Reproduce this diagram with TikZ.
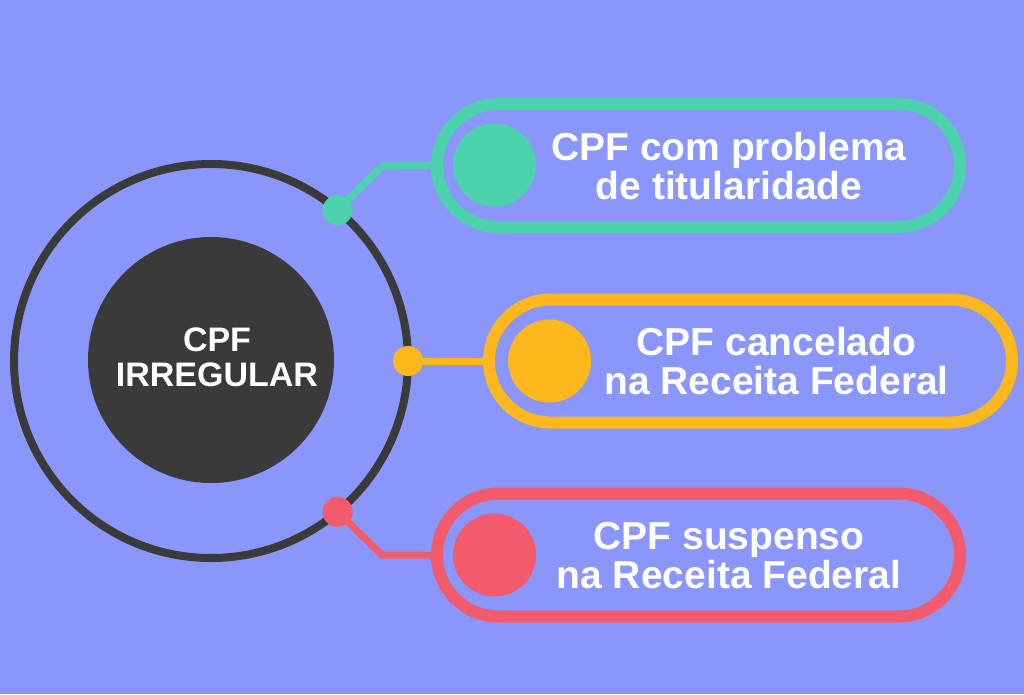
\documentclass[tikz,border=0pt]{standalone}
\usepackage{fontspec}
\setmainfont{Liberation Sans}
\usepackage{tikz}
\usetikzlibrary{positioning}
\definecolor{bgblue}{HTML}{8A96FA}
\definecolor{cpfgreen}{HTML}{4CD3AE}
\definecolor{cpfyellow}{HTML}{FDB81E}
\definecolor{cpfred}{HTML}{F25B6B}
\definecolor{cpfdark}{HTML}{3A3A3A}

\begin{document}
\begin{tikzpicture}[x=1pt,y=-1pt,
  pill/.style={draw=#1,line width=12pt,rounded corners=61.5pt,minimum width=523pt,minimum height=123pt,inner sep=0pt,outer sep=0pt},
  bigdot/.style={circle,fill=#1,minimum size=83pt,inner sep=0pt},
  pin/.style={circle,fill=#1,minimum size=30pt,inner sep=0pt},
  link/.style={draw=#1,line width=7pt},
  itemtext/.style={text=white,font=\fontsize{39}{39}\selectfont\bfseries,align=center,inner sep=0pt}]
\fill[bgblue] (0,0) rectangle (1024,694);
\useasboundingbox (0,0) rectangle (1024,694);

\node[circle,draw=cpfdark,line width=8pt,minimum size=394pt,outer sep=0pt] (ring) at (211,361) {};
\node[circle,fill=cpfdark,minimum size=246pt] (core) at (211,360) {};
\node[itemtext,font=\fontsize{34}{35}\selectfont\bfseries] (coretext) at (217,357) {CPF\\IRREGULAR};

\node[pill=cpfgreen] (green) at (698.5,165.5) {};
\node[bigdot=cpfgreen] (greendisk) at (494.5,165) {};
\node[itemtext] (greentext) at (729,166) {CPF com problema\\de titularidade};
\coordinate (greenbend) at (382,166);
\draw[link=cpfgreen] (ring.50) -- (greenbend) -- (green.west);
\node[pin=cpfgreen] (greenpin) at (ring.50) {};

\node[pill=cpfyellow] (yellow) at (750.5,361) {};
\node[bigdot=cpfyellow] (yellowdisk) at (549.5,361) {};
\node[itemtext] (yellowtext) at (776.5,361) {CPF cancelado\\na Receita Federal};
\draw[link=cpfyellow] (ring.0) -- (yellow.west);
\node[pin=cpfyellow] (yellowpin) at (ring.0) {};

\node[pill=cpfred] (red) at (698.5,555) {};
\node[bigdot=cpfred] (reddisk) at (494.5,555) {};
\node[itemtext] (redtext) at (729,556) {CPF suspenso\\na Receita Federal};
\coordinate (redbend) at (382,555);
\draw[link=cpfred] (ring.-50) -- (redbend) -- (red.west);
\node[pin=cpfred] (redpin) at (ring.-50) {};
\end{tikzpicture}
\end{document}
